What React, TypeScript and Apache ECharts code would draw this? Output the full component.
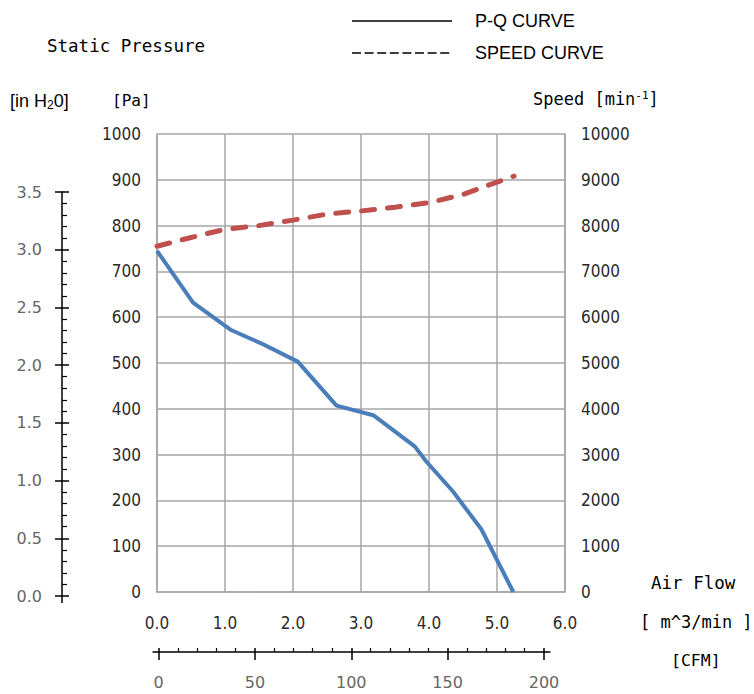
import React, { useEffect, useRef } from 'react';
import * as echarts from 'echarts';

// P-Q curve: air flow [m^3/min] vs static pressure [Pa]
const pqFlow = [0, 0.53, 1.09, 1.56, 2.07, 2.64, 3.18, 3.79, 3.96, 4.35, 4.77, 5.24];
const pqPressure = [745, 632, 572, 541, 503, 407, 386, 318, 285, 220, 137, 0];

// Speed curve: air flow [m^3/min] vs speed [min^-1]
const speedFlow = [0, 0.5, 1.0, 1.5, 2.0, 2.5, 3.0, 3.5, 4.0, 4.5, 5.0, 5.25];
const speedRpm = [7550, 7740, 7920, 8000, 8120, 8250, 8320, 8400, 8500, 8680, 8950, 9080];

// Axis ranges
const flowRange = [0, 6, 1];
const paRange = [0, 1000, 100];
const rpmRange = [0, 10000, 1000];
const inH2ORange = [0, 3.5, 0.5];
const cfmRange = [0, 200, 50];

const GRID_GRAY = '#a6a6a6';
const NARROW = '"Liberation Sans Narrow", "DejaVu Sans Condensed", sans-serif';
const MONO = '"DejaVu Sans Mono", monospace';
const SANS = '"Liberation Sans", Arial, sans-serif';

export default function App() {
  const ref = useRef<HTMLDivElement>(null);
  useEffect(() => {
    const chart = echarts.init(ref.current!, null, { renderer: 'svg' });
    const mainLabel = { fontFamily: NARROW, fontSize: 17, color: '#2a2a2a' };
    const secLabel = { fontFamily: '"DejaVu Sans", sans-serif', fontSize: 16, color: '#666' };
    const plain = (v: number) => String(v);
    const option: any = {
      animation: false,
      backgroundColor: '#fff',
      grid: [
        { left: 157, top: 134, width: 408, height: 458 },
        { left: 62, top: 192, width: 1, height: 404 },
        { left: 158.5, top: 651, width: 385.5, height: 1 },
      ],
      xAxis: [
        {
          gridIndex: 0, type: 'value', min: flowRange[0], max: flowRange[1], interval: flowRange[2],
          axisLine: { show: true, lineStyle: { color: GRID_GRAY, width: 1.5 } },
          axisTick: { show: false },
          axisLabel: { ...mainLabel, margin: 22, formatter: (v: number) => v.toFixed(1) },
          splitLine: { show: true, lineStyle: { color: GRID_GRAY, width: 1.5 } },
        },
        { gridIndex: 1, type: 'value', show: false },
        {
          gridIndex: 2, type: 'value', min: cfmRange[0], max: cfmRange[1], interval: cfmRange[2], position: 'bottom',
          axisLine: { show: true, lineStyle: { color: '#000', width: 1.5 } },
          axisTick: { show: true, inside: false, length: 8, lineStyle: { color: '#000', width: 1.5 } },
          axisLabel: { ...secLabel, margin: 22, formatter: plain },
          splitLine: { show: false },
        },
        {
          gridIndex: 2, type: 'value', min: cfmRange[0], max: cfmRange[1], interval: cfmRange[2], position: 'bottom',
          axisLine: { show: false },
          axisTick: { show: true, inside: true, length: 4, lineStyle: { color: '#000', width: 1.5 } },
          minorTick: { show: true, splitNumber: 5, length: 4, lineStyle: { color: '#000', width: 1.2 } },
          axisLabel: { show: false },
          splitLine: { show: false },
        },
      ],
      yAxis: [
        {
          gridIndex: 0, type: 'value', min: paRange[0], max: paRange[1], interval: paRange[2], position: 'left',
          axisLine: { show: true, lineStyle: { color: GRID_GRAY, width: 1.5 } },
          axisTick: { show: false },
          axisLabel: { ...mainLabel, margin: 16, formatter: plain },
          splitLine: { show: true, lineStyle: { color: GRID_GRAY, width: 1.5 } },
        },
        {
          gridIndex: 0, type: 'value', min: rpmRange[0], max: rpmRange[1], interval: rpmRange[2], position: 'right',
          axisLine: { show: true, lineStyle: { color: GRID_GRAY, width: 1.5 } },
          axisTick: { show: false },
          axisLabel: { ...mainLabel, margin: 16, formatter: plain },
          splitLine: { show: false },
        },
        {
          gridIndex: 1, type: 'value', min: inH2ORange[0], max: inH2ORange[1], interval: inH2ORange[2], position: 'left',
          axisLine: { show: true, lineStyle: { color: '#000', width: 1.5 } },
          axisTick: { show: true, inside: false, length: 7, lineStyle: { color: '#000', width: 1.5 } },
          axisLabel: { ...secLabel, margin: 20, formatter: (v: number) => v.toFixed(1) },
          splitLine: { show: false },
        },
        {
          gridIndex: 1, type: 'value', min: inH2ORange[0], max: inH2ORange[1], interval: inH2ORange[2], position: 'left',
          axisLine: { show: false },
          axisTick: { show: true, inside: true, length: 7, lineStyle: { color: '#000', width: 1.5 } },
          minorTick: { show: true, splitNumber: 5, length: 5, lineStyle: { color: '#000', width: 1.2 } },
          axisLabel: { show: false },
          splitLine: { show: false },
        },
        { gridIndex: 2, type: 'value', show: false },
      ],
      series: [
        {
          name: 'SPEED CURVE', type: 'line', xAxisIndex: 0, yAxisIndex: 1, symbol: 'none',
          data: speedFlow.map((q, i) => [q, speedRpm[i]]),
          lineStyle: { color: '#c0504d', width: 5, type: [13, 13], cap: 'round' },
        },
        {
          name: 'P-Q CURVE', type: 'line', xAxisIndex: 0, yAxisIndex: 0, symbol: 'none',
          data: pqFlow.map((q, i) => [q, pqPressure[i]]),
          lineStyle: { color: '#4a7ebb', width: 4 },
        },
      ],
      graphic: [
        // small overhangs of the secondary axis lines beyond their end ticks
        { type: 'line', shape: { x1: 62, y1: 596, x2: 62, y2: 603 }, style: { stroke: '#000', lineWidth: 1.5 } },
        { type: 'line', shape: { x1: 152.5, y1: 652, x2: 158.5, y2: 652 }, style: { stroke: '#000', lineWidth: 1.5 } },
        { type: 'line', shape: { x1: 544, y1: 652, x2: 550.5, y2: 652 }, style: { stroke: '#000', lineWidth: 1.5 } },
        { type: 'line', shape: { x1: 352, y1: 21, x2: 452, y2: 21 }, style: { stroke: '#000', lineWidth: 1.3 } },
        { type: 'line', shape: { x1: 352, y1: 53, x2: 452, y2: 53 }, style: { stroke: '#000', lineWidth: 1.3, lineDash: [9, 3.6] } },
        { type: 'text', x: 475, y: 21, style: { text: 'P-Q CURVE', font: `18px ${SANS}`, fill: '#000', verticalAlign: 'middle' } },
        { type: 'text', x: 475, y: 53, style: { text: 'SPEED CURVE', font: `18px ${SANS}`, fill: '#000', verticalAlign: 'middle' } },
        { type: 'text', x: 47, y: 46, style: { text: 'Static Pressure', font: `17.5px ${MONO}`, fill: '#000', verticalAlign: 'middle' } },
        {
          type: 'text', x: 10, y: 101,
          style: {
            text: '{a|[in H}{b|2}{a|0]}', verticalAlign: 'middle', fill: '#000',
            rich: {
              a: { fontFamily: SANS, fontSize: 18, fill: '#000' },
              b: { fontFamily: SANS, fontSize: 12, fill: '#000', padding: [8, 0, 0, 0] },
            },
          },
        },
        { type: 'text', x: 112, y: 100, style: { text: '[Pa]', font: `16px ${MONO}`, fill: '#000', verticalAlign: 'middle' } },
        {
          type: 'text', x: 533, y: 99,
          style: {
            text: '{a|Speed [min}{s|-1}{a|]}', verticalAlign: 'middle', fill: '#000',
            rich: {
              a: { fontFamily: MONO, fontSize: 17, fill: '#000' },
              s: { fontFamily: MONO, fontSize: 11, fill: '#000', padding: [0, 0, 8, 0] },
            },
          },
        },
        { type: 'text', x: 651, y: 583, style: { text: 'Air Flow', font: `17.5px ${MONO}`, fill: '#000', verticalAlign: 'middle' } },
        { type: 'text', x: 640, y: 622, style: { text: '[ m^3/min ]', font: `17px ${MONO}`, fill: '#000', verticalAlign: 'middle' } },
        { type: 'text', x: 671, y: 660, style: { text: '[CFM]', font: `16.5px ${MONO}`, fill: '#000', verticalAlign: 'middle' } },
      ],
    };
    chart.setOption(option);
    return () => chart.dispose();
  }, []);
  return (
    <div
      ref={ref}
      style={{ position: 'absolute', left: 0, top: 0, width: 754, height: 694, background: '#fff' }}
    />
  );
}
